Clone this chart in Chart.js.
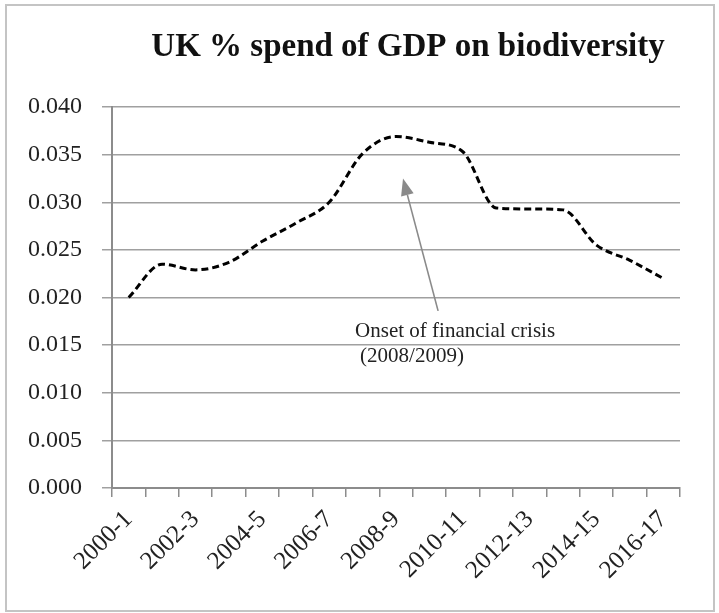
<!DOCTYPE html>
<html>
<head>
<meta charset="utf-8">
<script src="https://cdn.jsdelivr.net/npm/chart.js@4.4.1/dist/chart.umd.min.js"></script>
<style>
  html, body { margin: 0; padding: 0; background: #ffffff; }
  #wrap { width: 719px; height: 613px; }
</style>
</head>
<body>
<div id="wrap"><canvas id="c" width="719" height="613"></canvas></div>
<script>
// ---- data ----
const categories = ['2000-1','2001-2','2002-3','2003-4','2004-5','2005-6','2006-7','2007-8','2008-9',
                    '2009-10','2010-11','2011-12','2012-13','2013-14','2014-15','2015-16','2016-17'];
const spendPct = [0.0200, 0.0235, 0.0229, 0.0237, 0.0259, 0.0278, 0.0300, 0.0351, 0.0369,
                  0.0363, 0.0353, 0.0294, 0.0293, 0.0292, 0.0255, 0.0239, 0.0220];
const yTicks = { min: 0, max: 0.040, step: 0.005 };
const chartTitle = 'UK % spend of GDP on biodiversity';
const noteLines = ['Onset of financial crisis', '(2008/2009)'];
// arrow endpoints in data units (category index, value)
const arrowTip = [8.21, 0.0325];
const arrowTail = [9.26, 0.0186];

const SERIF = '"Liberation Serif", "Times New Roman", serif';

const frame = {
  id: 'frame',
  beforeDraw(chart) {
    const ctx = chart.ctx;
    ctx.save();
    ctx.fillStyle = '#ffffff';
    ctx.fillRect(0, 0, chart.width, chart.height);
    ctx.strokeStyle = '#c4c4c4';
    ctx.lineWidth = 2;
    ctx.strokeRect(6, 5, 708, 606);
    ctx.restore();
  },
  afterDraw(chart) {
    const ctx = chart.ctx;
    ctx.save();
    ctx.fillStyle = '#111';
    ctx.font = 'bold 33px ' + SERIF;
    ctx.textAlign = 'center';
    ctx.textBaseline = 'alphabetic';
    ctx.fillText(chartTitle, 408, 56);
    ctx.restore();
  }
};

const note = {
  id: 'note',
  afterDatasetsDraw(chart) {
    const xs = chart.scales.x, ys = chart.scales.y, ctx = chart.ctx;
    const tx = xs.getPixelForValue(arrowTip[0]), ty = ys.getPixelForValue(arrowTip[1]);
    const sx = xs.getPixelForValue(arrowTail[0]), sy = ys.getPixelForValue(arrowTail[1]);
    const ang = Math.atan2(ty - sy, tx - sx);
    const L = 17, W = 6.5;
    const bx = tx - L * Math.cos(ang), by = ty - L * Math.sin(ang);
    ctx.save();
    ctx.strokeStyle = '#8a8a8a';
    ctx.fillStyle = '#8a8a8a';
    ctx.lineWidth = 1.6;
    ctx.beginPath();
    ctx.moveTo(sx, sy);
    ctx.lineTo(bx, by);
    ctx.stroke();
    ctx.beginPath();
    ctx.moveTo(tx, ty);
    ctx.lineTo(bx + W * Math.sin(ang), by - W * Math.cos(ang));
    ctx.lineTo(bx - W * Math.sin(ang), by + W * Math.cos(ang));
    ctx.closePath();
    ctx.fill();
    ctx.fillStyle = '#222';
    ctx.font = '21px ' + SERIF;
    ctx.textAlign = 'left';
    ctx.textBaseline = 'alphabetic';
    ctx.fillText(noteLines[0], sx - 83, sy + 26);
    ctx.fillText(noteLines[1], sx - 78, sy + 51);
    ctx.restore();
  }
};

new Chart(document.getElementById('c'), {
  type: 'line',
  data: {
    labels: categories,
    datasets: [{
      label: 'UK % spend of GDP on biodiversity',
      data: spendPct,
      borderColor: '#000000',
      borderWidth: 3,
      borderDash: [7, 4],
      pointRadius: 0,
      pointHoverRadius: 0,
      fill: false,
      cubicInterpolationMode: 'monotone'
    }]
  },
  options: {
    responsive: false,
    animation: false,
    devicePixelRatio: 1,
    layout: { padding: { left: 0, top: 107, right: 39, bottom: 0 } },
    plugins: {
      legend: { display: false },
      title: { display: false },
      tooltip: { enabled: false }
    },
    scales: {
      x: {
        type: 'category',
        offset: true,
        grid: { offset: true, drawOnChartArea: false, drawTicks: true, tickLength: 9, color: '#8c8c8c', lineWidth: 1.5 },
        border: { color: '#8c8c8c', width: 2 },
        ticks: {
          autoSkip: false, minRotation: 45, maxRotation: 45, padding: 8,
          color: '#222', font: { family: SERIF, size: 25 },
          callback: (v, i) => (i % 2 === 0 ? categories[i] : '')
        },
        afterFit(s) { s.height = 125; }
      },
      y: {
        min: yTicks.min, max: yTicks.max,
        grid: { color: '#a0a0a0', lineWidth: 1.5, tickLength: 10, drawTicks: true },
        border: { color: '#8c8c8c', width: 2 },
        ticks: {
          stepSize: yTicks.step, padding: 20,
          color: '#222', font: { family: SERIF, size: 24 },
          callback: v => Number(v).toFixed(3)
        },
        afterFit(s) { s.width = 112; }
      }
    }
  },
  plugins: [frame, note]
});
</script>
</body>
</html>
